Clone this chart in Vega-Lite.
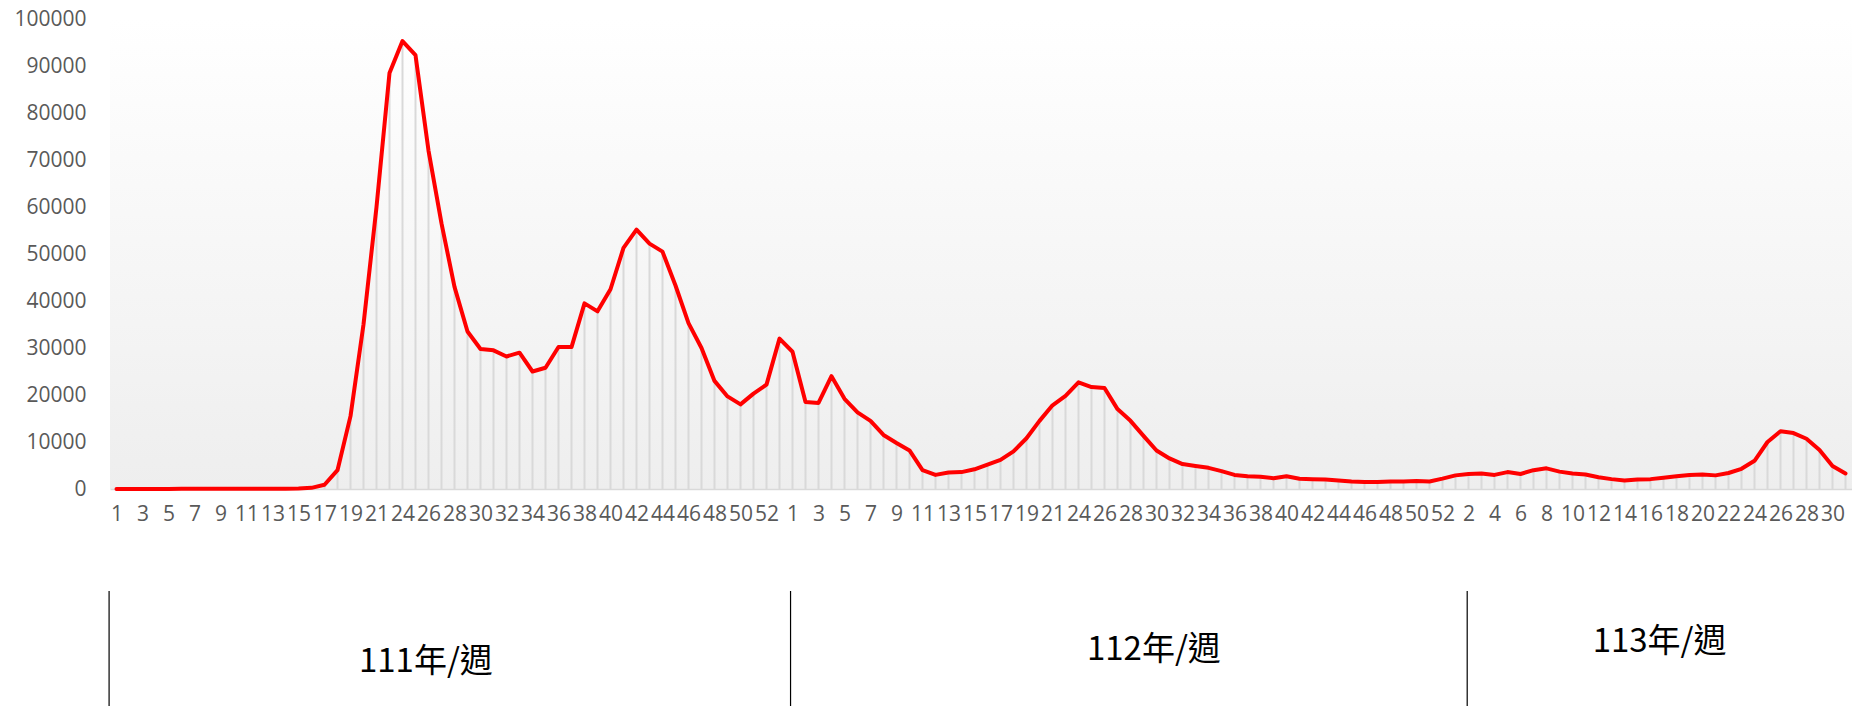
{
  "$schema": "https://vega.github.io/schema/vega-lite/v6.json",
  "padding": {"left": 13, "top": 8, "right": 0, "bottom": 0},
  "bounds": "flush",
  "spacing": 102,
  "background": "#ffffff",
  "config": {
    "view": {"stroke": null},
    "axis": {"labelFont": "Open Sans", "labelFontSize": 21, "labelColor": "#595959", "grid": false, "ticks": false, "tickSize": 0, "title": null}
  },
  "vconcat": [
    {
      "width": 1742,
      "height": 470,
      "view": {
        "stroke": null,
        "fill": {"gradient": "linear", "x1": 0, "y1": 0, "x2": 0, "y2": 1,
          "stops": [{"offset": 0, "color": "#ffffff"}, {"offset": 1, "color": "#eeeeee"}]}
      },
      "data": {"values": [
        {"i":1,"y":"111","w":1,"v":20},{"i":2,"y":"111","w":2,"v":15},{"i":3,"y":"111","w":3,"v":20},{"i":4,"y":"111","w":4,"v":25},
        {"i":5,"y":"111","w":5,"v":20},{"i":6,"y":"111","w":6,"v":30},{"i":7,"y":"111","w":7,"v":40},{"i":8,"y":"111","w":8,"v":40},
        {"i":9,"y":"111","w":9,"v":50},{"i":10,"y":"111","w":10,"v":60},{"i":11,"y":"111","w":11,"v":50},{"i":12,"y":"111","w":12,"v":40},
        {"i":13,"y":"111","w":13,"v":40},{"i":14,"y":"111","w":14,"v":60},{"i":15,"y":"111","w":15,"v":120},{"i":16,"y":"111","w":16,"v":250},
        {"i":17,"y":"111","w":17,"v":900},{"i":18,"y":"111","w":18,"v":4000},{"i":19,"y":"111","w":19,"v":15500},{"i":20,"y":"111","w":20,"v":35000},
        {"i":21,"y":"111","w":21,"v":60000},{"i":22,"y":"111","w":22,"v":88500},{"i":23,"y":"111","w":24,"v":95300},{"i":24,"y":"111","w":25,"v":92300},
        {"i":25,"y":"111","w":26,"v":72000},{"i":26,"y":"111","w":27,"v":56500},{"i":27,"y":"111","w":28,"v":43000},{"i":28,"y":"111","w":29,"v":33500},
        {"i":29,"y":"111","w":30,"v":29800},{"i":30,"y":"111","w":31,"v":29500},{"i":31,"y":"111","w":32,"v":28200},{"i":32,"y":"111","w":33,"v":29000},
        {"i":33,"y":"111","w":34,"v":25000},{"i":34,"y":"111","w":35,"v":25800},{"i":35,"y":"111","w":36,"v":30200},{"i":36,"y":"111","w":37,"v":30200},
        {"i":37,"y":"111","w":38,"v":39500},{"i":38,"y":"111","w":39,"v":37800},{"i":39,"y":"111","w":40,"v":42500},{"i":40,"y":"111","w":41,"v":51300},
        {"i":41,"y":"111","w":42,"v":55200},{"i":42,"y":"111","w":43,"v":52200},{"i":43,"y":"111","w":44,"v":50500},{"i":44,"y":"111","w":45,"v":43300},
        {"i":45,"y":"111","w":46,"v":35300},{"i":46,"y":"111","w":47,"v":30000},{"i":47,"y":"111","w":48,"v":23000},{"i":48,"y":"111","w":49,"v":19700},
        {"i":49,"y":"111","w":50,"v":18000},{"i":50,"y":"111","w":51,"v":20300},{"i":51,"y":"111","w":52,"v":22200},{"i":52,"y":"111","w":53,"v":32000},
        {"i":53,"y":"112","w":1,"v":29200},{"i":54,"y":"112","w":2,"v":18500},{"i":55,"y":"112","w":3,"v":18300},{"i":56,"y":"112","w":4,"v":24000},
        {"i":57,"y":"112","w":5,"v":19200},{"i":58,"y":"112","w":6,"v":16300},{"i":59,"y":"112","w":7,"v":14500},{"i":60,"y":"112","w":8,"v":11500},
        {"i":61,"y":"112","w":9,"v":9800},{"i":62,"y":"112","w":10,"v":8200},{"i":63,"y":"112","w":11,"v":4000},{"i":64,"y":"112","w":12,"v":3000},
        {"i":65,"y":"112","w":13,"v":3500},{"i":66,"y":"112","w":14,"v":3600},{"i":67,"y":"112","w":15,"v":4200},{"i":68,"y":"112","w":16,"v":5200},
        {"i":69,"y":"112","w":17,"v":6200},{"i":70,"y":"112","w":18,"v":8000},{"i":71,"y":"112","w":19,"v":10800},{"i":72,"y":"112","w":20,"v":14500},
        {"i":73,"y":"112","w":21,"v":17800},{"i":74,"y":"112","w":22,"v":19800},{"i":75,"y":"112","w":24,"v":22700},{"i":76,"y":"112","w":25,"v":21700},
        {"i":77,"y":"112","w":26,"v":21500},{"i":78,"y":"112","w":27,"v":17000},{"i":79,"y":"112","w":28,"v":14500},{"i":80,"y":"112","w":29,"v":11300},
        {"i":81,"y":"112","w":30,"v":8200},{"i":82,"y":"112","w":31,"v":6500},{"i":83,"y":"112","w":32,"v":5300},{"i":84,"y":"112","w":33,"v":4900},
        {"i":85,"y":"112","w":34,"v":4500},{"i":86,"y":"112","w":35,"v":3800},{"i":87,"y":"112","w":36,"v":3000},{"i":88,"y":"112","w":37,"v":2700},
        {"i":89,"y":"112","w":38,"v":2600},{"i":90,"y":"112","w":39,"v":2300},{"i":91,"y":"112","w":40,"v":2700},{"i":92,"y":"112","w":41,"v":2200},
        {"i":93,"y":"112","w":42,"v":2100},{"i":94,"y":"112","w":43,"v":2000},{"i":95,"y":"112","w":44,"v":1800},{"i":96,"y":"112","w":45,"v":1600},
        {"i":97,"y":"112","w":46,"v":1500},{"i":98,"y":"112","w":47,"v":1500},{"i":99,"y":"112","w":48,"v":1600},{"i":100,"y":"112","w":49,"v":1600},
        {"i":101,"y":"112","w":50,"v":1700},{"i":102,"y":"112","w":51,"v":1600},{"i":103,"y":"112","w":52,"v":2200},
        {"i":104,"y":"113","w":1,"v":2900},{"i":105,"y":"113","w":2,"v":3200},{"i":106,"y":"113","w":3,"v":3300},{"i":107,"y":"113","w":4,"v":3000},
        {"i":108,"y":"113","w":5,"v":3600},{"i":109,"y":"113","w":6,"v":3200},{"i":110,"y":"113","w":7,"v":4000},{"i":111,"y":"113","w":8,"v":4400},
        {"i":112,"y":"113","w":9,"v":3700},{"i":113,"y":"113","w":10,"v":3300},{"i":114,"y":"113","w":11,"v":3100},{"i":115,"y":"113","w":12,"v":2500},
        {"i":116,"y":"113","w":13,"v":2100},{"i":117,"y":"113","w":14,"v":1800},{"i":118,"y":"113","w":15,"v":2000},{"i":119,"y":"113","w":16,"v":2100},
        {"i":120,"y":"113","w":17,"v":2400},{"i":121,"y":"113","w":18,"v":2700},{"i":122,"y":"113","w":19,"v":3000},{"i":123,"y":"113","w":20,"v":3100},
        {"i":124,"y":"113","w":21,"v":2900},{"i":125,"y":"113","w":22,"v":3400},{"i":126,"y":"113","w":23,"v":4300},{"i":127,"y":"113","w":24,"v":6000},
        {"i":128,"y":"113","w":25,"v":10000},{"i":129,"y":"113","w":26,"v":12300},{"i":130,"y":"113","w":27,"v":11900},{"i":131,"y":"113","w":28,"v":10700},
        {"i":132,"y":"113","w":29,"v":8300},{"i":133,"y":"113","w":30,"v":4900},{"i":134,"y":"113","w":31,"v":3300}
      ]},
      "encoding": {
        "x": {
          "field": "i", "type": "quantitative",
          "scale": {"domain": [0.5, 134.5], "nice": false, "zero": false},
          "axis": {
            "values": [1,3,5,7,9,11,13,15,17,19,21,23,25,27,29,31,33,35,37,39,41,43,45,47,49,51,53,55,57,59,61,63,65,67,69,71,73,75,77,79,81,83,85,87,89,91,93,95,97,99,101,103,105,107,109,111,113,115,117,119,121,123,125,127,129,131,133],
            "labelExpr": "datum.value <= 21 ? datum.value : datum.value <= 52 ? datum.value + 1 : datum.value <= 73 ? datum.value - 52 : datum.value <= 103 ? datum.value - 51 : datum.value - 103",
            "labelOverlap": false, "labelFlush": false, "labelBound": false,
            "labelPadding": 14,
            "domainColor": "#d9d9d9", "domainWidth": 1.5
          }
        }
      },
      "layer": [
        {
          "mark": {"type": "rule", "color": "#d9d9d9", "strokeWidth": 2},
          "encoding": {
            "y": {"field": "v", "type": "quantitative",
              "scale": {"domain": [0, 100000], "nice": false},
              "axis": {"values": [0,10000,20000,30000,40000,50000,60000,70000,80000,90000,100000], "format": "d", "domain": false, "labelPadding": 24}},
            "y2": {"datum": 0}
          }
        },
        {
          "mark": {"type": "line", "color": "#ff0000", "strokeWidth": 4, "strokeJoin": "round", "strokeCap": "round"},
          "encoding": {"y": {"field": "v", "type": "quantitative"}}
        }
      ]
    },
    {
      "width": 1742,
      "height": 116,
      "view": {"stroke": null, "fill": null},
      "data": {"values": [
        {"lab": "111年/週", "c": 24.8},
        {"lab": "112年/週", "c": 80.8},
        {"lab": "113年/週", "c": 119.7}
      ]},
      "layer": [
        {
          "data": {"values": [{"s": 0.43}, {"s": 52.85}, {"s": 104.9}]},
          "mark": {"type": "rule", "color": "#000000", "strokeWidth": 1.2},
          "encoding": {"x": {"field": "s", "type": "quantitative", "scale": {"domain": [0.5, 134.5], "nice": false, "zero": false}, "axis": null}}
        },
        {
          "transform": [{"filter": "datum.lab == '111年/週'"}],
          "mark": {"type": "text", "font": "Noto Sans CJK TC", "fontSize": 33, "color": "#000000", "dy": 13},
          "encoding": {"x": {"field": "c", "type": "quantitative", "scale": {"domain": [0.5, 134.5], "nice": false, "zero": false}, "axis": null}, "text": {"field": "lab"}}
        },
        {
          "transform": [{"filter": "datum.lab == '112年/週'"}],
          "mark": {"type": "text", "font": "Noto Sans CJK TC", "fontSize": 33, "color": "#000000", "dy": 1},
          "encoding": {"x": {"field": "c", "type": "quantitative", "scale": {"domain": [0.5, 134.5], "nice": false, "zero": false}, "axis": null}, "text": {"field": "lab"}}
        },
        {
          "transform": [{"filter": "datum.lab == '113年/週'"}],
          "mark": {"type": "text", "font": "Noto Sans CJK TC", "fontSize": 33, "color": "#000000", "dy": -7},
          "encoding": {"x": {"field": "c", "type": "quantitative", "scale": {"domain": [0.5, 134.5], "nice": false, "zero": false}, "axis": null}, "text": {"field": "lab"}}
        }
      ]
    }
  ]
}
